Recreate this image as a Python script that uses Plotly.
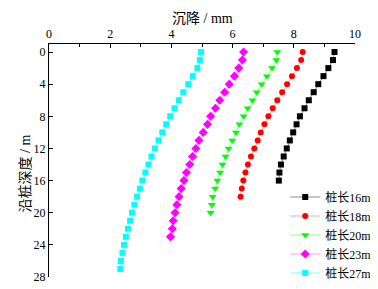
import plotly.graph_objects as go

# Data: settlement (mm) vs depth along pile (m)
depth_16 = list(range(0, 17))
settle_16 = [9.33, 9.28, 9.13, 8.97, 8.80, 8.65, 8.49, 8.35, 8.20, 8.09,
             7.98, 7.87, 7.77, 7.67, 7.58, 7.53, 7.51]

depth_18 = list(range(0, 19))
settle_18 = [8.29, 8.24, 8.10, 7.94, 7.78, 7.62, 7.46, 7.31, 7.17, 7.04,
             6.92, 6.82, 6.71, 6.60, 6.50, 6.42, 6.35, 6.30, 6.26]

depth_20 = list(range(0, 21))
settle_20 = [7.46, 7.43, 7.29, 7.12, 6.95, 6.79, 6.65, 6.49, 6.36, 6.22,
             6.11, 5.99, 5.87, 5.77, 5.67, 5.59, 5.50, 5.43, 5.35, 5.32, 5.28]

depth_23 = list(range(0, 24))
settle_23 = [6.36, 6.32, 6.20, 6.06, 5.89, 5.74, 5.58, 5.44, 5.28, 5.18,
             5.04, 4.90, 4.80, 4.69, 4.60, 4.49, 4.41, 4.32, 4.25, 4.18,
             4.12, 4.06, 4.03, 3.97]

depth_27 = list(range(0, 28))
settle_27 = [4.97, 4.93, 4.85, 4.70, 4.55, 4.39, 4.24, 4.10, 3.96, 3.83,
             3.70, 3.58, 3.46, 3.35, 3.25, 3.15, 3.05, 2.97, 2.88, 2.79,
             2.71, 2.65, 2.58, 2.51, 2.45, 2.40, 2.35, 2.33]

series_names = ["桩长16m", "桩长18m", "桩长20m", "桩长23m", "桩长27m"]
x_ticks = [0, 2, 4, 6, 8, 10]
y_ticks = [0, 4, 8, 12, 16, 20, 24, 28]

FONT = "Liberation Serif, Noto Sans CJK SC, serif"

styles = [
    ("#000000", "rgba(0,0,0,0.45)", "square"),
    ("#FF0000", "rgba(255,0,0,0.35)", "circle"),
    ("#00FF00", "rgba(0,255,0,0.45)", "triangle-down"),
    ("#FF00FF", "rgba(255,0,255,0.4)", "diamond"),
    ("#00FFFF", "rgba(0,255,255,0.5)", "square"),
]

data = [(settle_16, depth_16), (settle_18, depth_18), (settle_20, depth_20),
        (settle_23, depth_23), (settle_27, depth_27)]

fig = go.Figure()
for (xs, ys), name, (mc, lc, sym) in zip(data, series_names, styles):
    size = 6 if sym not in ("triangle-down", "diamond") else 7
    fig.add_trace(go.Scatter(
        x=xs, y=ys, name=name, mode="lines+markers",
        line=dict(color=lc, width=1),
        marker=dict(color=mc, symbol=sym, size=size, line=dict(width=0)),
    ))

fig.update_layout(
    width=378, height=289,
    margin=dict(l=41, r=10, t=36, b=12),
    paper_bgcolor="white", plot_bgcolor="white",
    font=dict(family=FONT, size=12, color="black"),
    showlegend=True,
    legend=dict(x=0.772, y=-0.045, xanchor="left", yanchor="bottom",
                bgcolor="rgba(0,0,0,0)", borderwidth=0,
                font=dict(family=FONT, size=12), tracegroupgap=0),
    xaxis=dict(side="top", range=[0, 10], tickvals=x_ticks,
               showline=True, linecolor="black", linewidth=1,
               ticks="inside", ticklen=4, tickcolor="black",
               showgrid=False, zeroline=False,
               minor=dict(ticks="inside", ticklen=3, dtick=1, tickcolor="black"),
               tickfont=dict(family=FONT, size=12)),
    yaxis=dict(range=[28, -1], tickvals=y_ticks,
               showline=True, linecolor="black", linewidth=1,
               ticks="inside", ticklen=4, tickcolor="black",
               showgrid=False, zeroline=False,
               tickfont=dict(family=FONT, size=12)),
    annotations=[
        dict(text="沉降 / mm", xref="paper", yref="paper", x=0.5, y=1.108,
             xanchor="center", yanchor="middle", showarrow=False,
             font=dict(family=FONT, size=14)),
        dict(text="沿桩深度 / m", xref="paper", yref="paper", x=-0.078, y=0.445,
             xanchor="center", yanchor="middle", showarrow=False, textangle=-90,
             font=dict(family=FONT, size=14)),
    ],
)

fig.write_html("out.html")
